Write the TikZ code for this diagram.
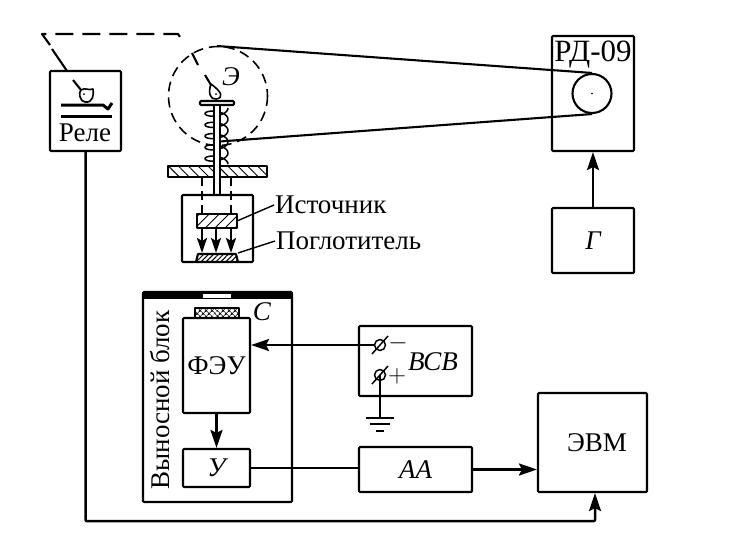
\documentclass[tikz,border=0pt]{standalone}
\usepackage{fontspec}
\setmainfont{Liberation Serif}
\usetikzlibrary{arrows.meta,patterns.meta,calc}
\tikzset{
    blockbox/.style={draw, rounded corners=1pt, inner sep=0pt},
    wire/.style={line width=2.5pt},
    linkarrow/.style={line width=2.5pt, -{Stealth[length=18pt, width=12pt, inset=3pt]}},
    fallarrow/.style={line width=2.5pt, -{Stealth[length=15pt, width=10pt, inset=3pt]}},
    leader/.style={line width=1.4pt},
    terminal/.style={draw, circle, line width=1.5pt, minimum size=11pt, inner sep=0pt},
}
\begin{document}
\begin{tikzpicture}[x=1pt, y=-1pt, line width=2.1pt, line join=round, font=\fontsize{27}{31}\selectfont]
    \useasboundingbox (0, 0) rectangle (741, 552);

    \node[blockbox, minimum width=71pt, minimum height=80pt] (relay) at (85.5, 111) {};
    \node (relaytext) at (85, 133) {Реле};
    \node[blockbox, minimum width=82pt, minimum height=115pt] (rd) at (593, 93.5) {};
    \node[font=\fontsize{31}{35}\selectfont] (rdtext) at (593, 54) {РД-09};
    \node[blockbox, minimum width=82pt, minimum height=65pt] (gen) at (593, 240.5) {\itshape Г};
    \node[draw, circle, minimum size=39pt, inner sep=0pt] (pulley) at (592, 93.5) {};
    \fill (592, 93.5) circle (0.8);

    \draw[dash pattern=on 18pt off 9pt] (50, 45) -- (42, 34) -- (178, 34) -- (185, 44);
    \draw[line width=2.1pt] (52, 49) -- (67, 71);
    \draw[dash pattern=on 10pt off 6pt, line width=1.6pt] (218, 96) circle (49.5);
    \draw[line width=2.1pt] (192, 53) -- (198, 65);

    \coordinate (belttop) at (217, 46);
    \coordinate (beltlow) at (213, 142);
    \draw[line width=2.1pt] (belttop) -- (pulley.north);
    \draw[line width=2.1pt] (beltlow) -- (pulley.south);

    \draw[line width=1.5pt] plot[smooth, domain=0:1800, samples=160] ({216.5+11.5*cos(\x)}, {108+\x/32+5*sin(\x)});
    \draw[pattern={Lines[angle=-45, distance=7pt, line width=.9pt]}] (168, 166) rectangle (267, 177);
    \draw[fill=white, rounded corners=1pt] (200, 101) rectangle (234, 105);
    \draw[fill=white, line width=2.1pt] (214, 105) rectangle (220, 195);
    \draw[line width=2.1pt] (205, 75) -- (211, 85);
    \draw[fill=white, line width=1.6pt] (211, 84) .. controls (208, 92) and (210, 100) .. (216, 99) .. controls (224, 98) and (222, 92) .. (211, 84);
    \fill (216, 94) circle (1);
    \node (lamp) at (231, 77) {\itshape Э};

    \draw[blockbox] (182, 195) rectangle (253, 262);
    \draw[dash pattern=on 9pt off 5pt] (202, 177) -- (202, 214);
    \draw[dash pattern=on 9pt off 5pt] (231, 177) -- (231, 214);
    \draw[pattern={Lines[angle=45, distance=7pt, line width=.9pt]}] (197, 214) rectangle (237, 228);
    \draw[pattern={Lines[angle=45, distance=3.5pt, line width=1pt]}] (196, 262) -- (198, 254) -- (236, 254) -- (238, 262);
    \foreach \xpos in {202, 216, 231} {
        \draw[fallarrow] (\xpos, 228) -- (\xpos, 253);
    }
    \node[anchor=west, inner sep=0pt] (source) at (274, 205) {Источник};
    \node[anchor=west, inner sep=0pt] (absorber) at (275, 241) {Поглотитель};
    \draw[leader] (237, 221) -- (source.west);
    \draw[leader] (238, 253) -- (absorber.west);

    \draw[line width=2.1pt] (73, 80) -- (81, 90);
    \draw[line width=1.6pt, fill=white] (81, 90) .. controls (85, 87) and (89, 91) .. (93, 89) .. controls (94, 95) and (93, 103) .. (85, 102) .. controls (80, 102) and (78, 92) .. (81, 90);
    \fill (84, 94) circle (1);
    \draw[line width=3pt] (61, 105) -- (103, 105) -- (108, 109) -- (112, 103);
    \draw[line width=3pt] (61, 116) -- (112, 116);

    \draw[blockbox] (143, 292) rectangle (292, 502);
    \fill (143, 292) rectangle (292, 299);
    \fill[white] (203, 294) rectangle (231, 298);
    \node[rotate=90] (remote) at (160, 400) {Выносной блок};
    \node[blockbox, minimum width=67pt, minimum height=95pt] (feu) at (216.5, 365.5) {ФЭУ};
    \draw[pattern={Hatch[angle=45, distance=4pt, line width=.9pt]}] (195, 318) rectangle (239, 308);
    \node (sample) at (262, 312) {\itshape С};
    \node[blockbox, minimum width=67pt, minimum height=38pt] (amp) at (216.5, 468) {\itshape У};
    \node[blockbox, minimum width=113pt, minimum height=70pt] (hv) at (415.5, 361) {};
    \node (hvtext) at (433, 362) {\itshape ВСВ};
    \node[blockbox, minimum width=113pt, minimum height=45pt] (aa) at (415.5, 469.5) {\itshape АА};
    \node[blockbox, minimum width=109pt, minimum height=99pt] (evm) at (592.5, 442.5) {};
    \node (evmtext) at (597, 443) {ЭВМ};

    \node[terminal] (minus) at (380, 345) {};
    \node[terminal] (plus) at (380, 375) {};
    \node (minussign) at (398, 343) {$-$};
    \node (plussign) at (397, 376) {$+$};
    \draw[line width=1.5pt] (minus) +(-8, 9) -- +(8, -9);
    \draw[line width=1.5pt] (plus) +(-8, 9) -- +(8, -9);
    \coordinate (ground) at (380, 418);
    \draw[wire] (plus.center) -- (ground);
    \draw[wire] (ground) +(-14, 0) -- +(14, 0);
    \draw[wire] (ground) +(-10, 6) -- +(10, 6);
    \draw[wire] (ground) +(-4, 13) -- +(4, 13);

    \draw[linkarrow] (gen.north) -- (rd.south);
    \draw[linkarrow] (minus.west) -- (minus.west -| feu.east);
    \draw[linkarrow] (feu.south) -- (amp.north);
    \draw[wire] (amp.east) -- (amp.east -| aa.west);
    \draw[linkarrow] (aa.east) -- (aa.east -| evm.west);
    \coordinate (buscorner) at (595, 521);
    \draw[linkarrow, rounded corners=1pt] (relay.south) |- (buscorner) -- (buscorner |- evm.south);
\end{tikzpicture}
\end{document}
